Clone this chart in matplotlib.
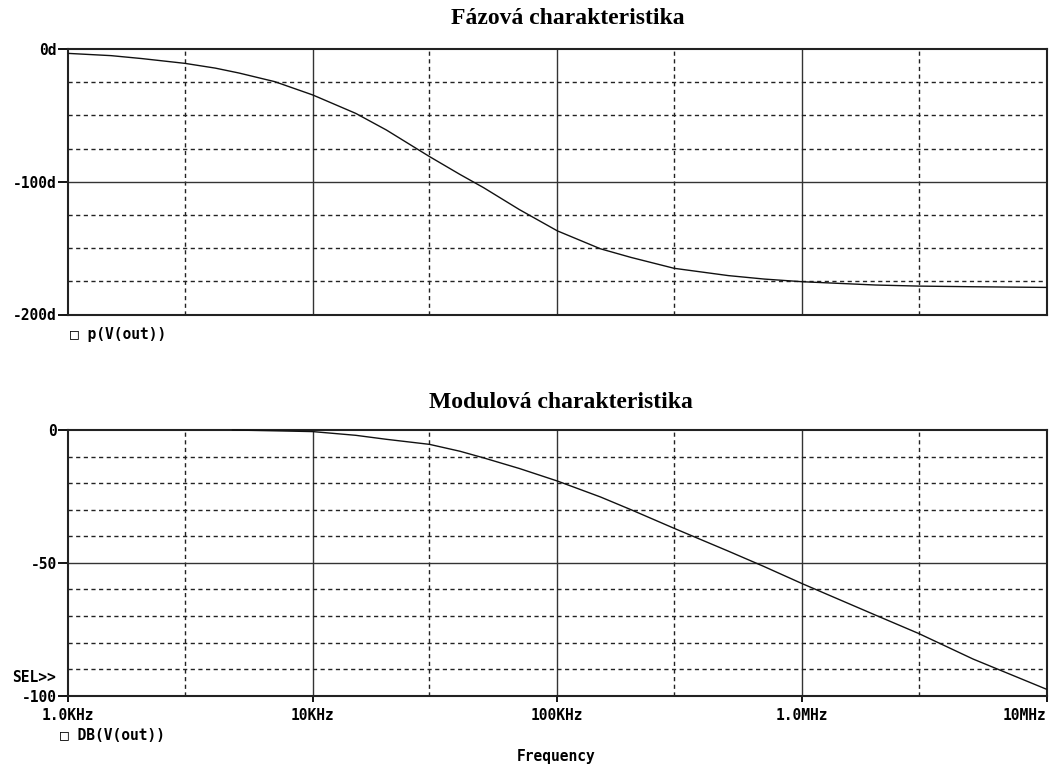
import numpy as np
import matplotlib
matplotlib.use('Agg')
import matplotlib.pyplot as plt

# frequency points [Hz]
freq_ph = [1e3, 1.5e3, 2e3, 3e3, 4e3, 5e3, 7e3, 10e3, 15e3, 20e3, 30e3, 40e3, 50e3, 70e3,
           100e3, 150e3, 200e3, 300e3, 500e3, 700e3, 1e6, 2e6, 3e6, 5e6, 10e6]
phase = [-3.3, -5.0, -7.2, -10.8, -14.4, -18.1, -24.6, -34.6, -48.5, -61.0, -81.0, -94.5, -104.5, -121.0,
         -137.0, -150.5, -157.0, -165.2, -170.7, -173.3, -175.3, -177.8, -178.6, -179.1, -179.6]

freq_db = [4.7e3, 7e3, 10e3, 15e3, 20e3, 30e3, 40e3, 50e3, 70e3, 100e3, 150e3, 200e3,
           300e3, 500e3, 700e3, 1e6, 2e6, 3e6, 5e6, 10e6]
gain_db = [0.0, -0.3, -0.6, -2.0, -3.5, -5.4, -8.0, -10.5, -14.5, -19.2, -25.2, -30.0,
           -37.0, -45.6, -51.4, -57.8, -69.7, -76.6, -86.2, -97.6]

xdec = [1e3, 1e4, 1e5, 1e6, 1e7]
xdash = [3e3, 3e4, 3e5, 3e6]
xlabels = ['1.0KHz', '10KHz', '100KHz', '1.0MHz', '10MHz']

W, H = 1049, 764
fig = plt.figure(figsize=(W/100, H/100), dpi=100)
mono = dict(family='DejaVu Sans Mono', weight='bold', size=10.5)
serif = dict(family='Liberation Serif', weight='bold', size=17)

def px(x0, y0, x1, y1):
    return [x0/W, 1-y1/H, (x1-x0)/W, (y1-y0)/H]

def frame(ax, ylim, ysolid, ydash, yticks, ylabels):
    ax.set_xscale('log')
    ax.set_xlim(1e3, 1e7)
    ax.set_ylim(*ylim)
    for s in ax.spines.values():
        s.set_linewidth(1.5); s.set_color('#222222')
    for x in xdec[1:-1]:
        ax.axvline(x, color='#333333', lw=1.0, zorder=1)
    for x in xdash:
        ax.axvline(x, color='#222222', lw=1.0, ls=(0, (3, 2.5)), zorder=1)
    for y in ysolid:
        ax.axhline(y, color='#333333', lw=1.0, zorder=1)
    for y in ydash:
        ax.axhline(y, color='#222222', lw=1.0, ls=(0, (3, 2.5)), zorder=1)
    ax.set_yticks(yticks)
    ax.set_yticklabels(ylabels, **mono)
    ax.tick_params(axis='y', direction='out', length=7, width=1.3, pad=1)
    ax.xaxis.set_minor_locator(matplotlib.ticker.NullLocator())

# phase plot
ax1 = fig.add_axes(px(68, 49, 1046.7, 314.5))
frame(ax1, (-200, 0), [-100], [-25, -50, -75, -125, -150, -175],
      [0, -100, -200], ['0d', '-100d', '-200d'])
ax1.set_xticks([])
ax1.plot(freq_ph, phase, color='#111111', lw=1.0, zorder=3)

# magnitude plot
ax2 = fig.add_axes(px(68, 430, 1046.7, 695.7))
frame(ax2, (-100, 0), [-50], [-10, -20, -30, -40, -60, -70, -80, -90],
      [0, -50, -100], ['0', '-50', '-100'])
ax2.set_xticks(xdec)
ax2.set_xticklabels(xlabels, **mono)
ax2.tick_params(axis='x', direction='out', length=4, width=1.3, pad=5)
ax2.get_xticklabels()[-1].set_horizontalalignment('right')
ax2.plot(freq_db, gain_db, color='#111111', lw=1.0, zorder=3, clip_on=False)

fig.text(568/W, 1-18/H, 'Fázová charakteristika', ha='center', va='center', **serif)
fig.text(561/W, 1-403/H, 'Modulová charakteristika', ha='center', va='center', **serif)
fig.text(70/W, 1-335/H, '\u25a1 p(V(out))', ha='left', va='center', **mono)
fig.text(60/W, 1-735/H, '\u25a1 DB(V(out))', ha='left', va='center', **mono)
fig.text(12/W, 1-677/H, 'SEL>>', ha='left', va='center', **mono)
fig.text(556/W, 1-757/H, 'Frequency', ha='center', va='center', **mono)

fig.savefig('out.png', dpi=100, facecolor='white')
